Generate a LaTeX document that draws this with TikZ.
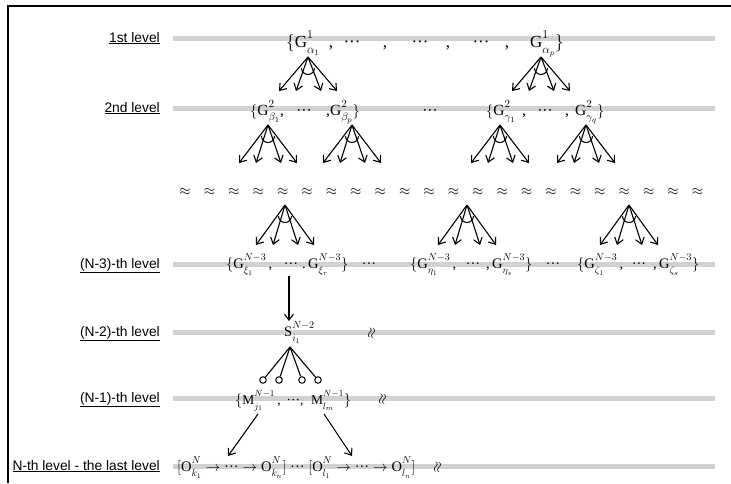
\documentclass[tikz,border=0pt]{standalone}
\usepackage{fontspec}
\setmainfont{Liberation Serif}
\newfontfamily\labelfont{Liberation Sans}
\usetikzlibrary{arrows.meta}
\newcommand{\dd}{\mbox{···}}
\newcommand{\ssc}[3]{\mathrm{#1}^{\raisebox{2pt}{$\scriptstyle #2$}}_{\raisebox{-2pt}{$\scriptstyle #3$}}}
\newcommand{\andfan}[4]{%
  \coordinate (#1) at (#2,#3);
  \foreach \d [count=\i] in {-29,-12,13,29} {
    \coordinate (#1t\i) at (#2+\d,#4);
    \draw[arr] (#1) -- (#1t\i);
  }
  \draw[line width=1pt] ([shift={(-6.5,-11)}]#1) arc[start angle=180,end angle=360,radius=6.5];
}
\begin{document}
\begin{tikzpicture}[x=1pt,y=1pt,
  arr/.style={-{Straight Barb[length=6pt,width=9pt]}, line width=1.1pt},
  lvl/.style={font=\labelfont\fontsize{13.8}{16}\selectfont, anchor=base east, inner sep=0},
  bar/.style={line width=5pt, draw=black!18},
  ta/.style={font=\fontsize{17}{20}\selectfont, inner sep=0},
  tb/.style={font=\fontsize{15.5}{18}\selectfont, inner sep=0},
  tc/.style={font=\fontsize{14.5}{17}\selectfont, inner sep=0},
  td/.style={font=\fontsize{13.5}{16}\selectfont, inner sep=0},
  W/.style={anchor=base west},
  C/.style={anchor=base},
  apx/.style={font=\fontsize{14}{17}\selectfont, inner sep=0},
  wav/.style={font=\fontsize{14}{17}\selectfont, inner sep=0, rotate=80},
  ring/.style={circle, draw, minimum size=6.5pt, inner sep=0, line width=1pt}]
\useasboundingbox (0,0) rectangle (731,-483);
% frame
\coordinate (f0) at (8,-483);
\coordinate (f1) at (8,-6);
\coordinate (f2) at (731,-6);
\draw[line width=2pt] (f0) -- (f1) -- (f2);
% bars
\foreach \n/\y in {b1/38,b2/108,b3/264,b4/332,b5/398,b6/466} {
  \coordinate (\n l) at (173,-\y);
  \coordinate (\n r) at (715,-\y);
  \draw[bar] (\n l) -- (\n r);
}
% labels
\node[lvl] (l1) at (160,-42) {\underline{1st level}};
\node[lvl] (l2) at (160,-112) {\underline{2nd level}};
\node[lvl] (l3) at (160,-268) {\underline{(N-3)-th level}};
\node[lvl] (l4) at (160,-336) {\underline{(N-2)-th level}};
\node[lvl] (l5) at (160,-402) {\underline{(N-1)-th level}};
\node[lvl] (l6) at (160,-470) {\underline{N-th level - the last level}};
% level 1
\node[ta,W] (g11) at (286,-47) {$\{\ssc{G}{1}{\alpha_1}$};
\node[ta,C] (c11) at (331,-47) {,};
\node[ta,C] (d11) at (352,-47) {···};
\node[ta,C] (c12) at (385,-47) {,};
\node[ta,C] (d12) at (420,-47) {···};
\node[ta,C] (c13) at (448,-47) {,};
\node[ta,C] (d13) at (481,-47) {···};
\node[ta,C] (c14) at (507,-47) {,};
\node[ta,W] (g1p) at (530,-47) {$\ssc{G}{1}{\alpha_p}\}$};
% level 2
\node[tb,W] (g21) at (250,-115) {$\{\ssc{G}{2}{\beta_1}$,};
\node[tb,C] (d21) at (304,-115) {···};
\node[tb,W] (g2p) at (326,-115) {,$\ssc{G}{2}{\beta_p}\}$};
\node[tb,C] (d22) at (430,-115) {···};
\node[tb,W] (g2g) at (486,-115) {$\{\ssc{G}{2}{\gamma_1}$};
\node[tb,C] (c21) at (524,-115) {,};
\node[tb,C] (d23) at (545,-115) {···};
\node[tb,C] (c22) at (567,-115) {,};
\node[tb,W] (g2q) at (575,-115) {$\ssc{G}{2}{\gamma_q}\}$};
% fans
\andfan{fa}{308}{-57}{-91}
\andfan{fb}{541}{-57}{-91}
\andfan{fc}{268}{-125}{-163}
\andfan{fd}{352}{-125}{-163}
\andfan{fe}{500}{-125}{-163}
\andfan{ff}{586}{-125}{-163}
% approx row
\foreach \i in {0,...,21} {
  \node[apx] (ap\i) at ({185+\i*24.4},-192) {$\approx$};
}
\andfan{fg}{285}{-205}{-245}
\andfan{fh}{467}{-205}{-245}
\andfan{fi}{629}{-205}{-245}
% level N-3
\node[tc,W] (g31) at (226,-268) {$\{\ssc{G}{N-3}{\xi_1}$\,,};
\node[tc,C] (d31) at (291,-268) {···};
\node[tc,W] (g3r) at (302,-268) {.\,$\ssc{G}{N-3}{\xi_r}\}$};
\node[tc,C] (d32) at (369,-268) {···};
\node[tc,W] (g3h) at (410,-268) {$\{\ssc{G}{N-3}{\eta_1}$\,,};
\node[tc,C] (d33) at (473,-268) {···};
\node[tc,W] (g3s) at (486,-268) {,\,$\ssc{G}{N-3}{\eta_s}\}$};
\node[tc,C] (d34) at (553,-268) {···};
\node[tc,W] (g3z) at (577,-268) {$\{\ssc{G}{N-3}{\zeta_1}$\,,};
\node[tc,C] (d35) at (639,-268) {···};
\node[tc,W] (g3zs) at (653,-268) {,\,$\ssc{G}{N-3}{\zeta_s}\}$};
% vertical arrow
\coordinate (v0) at (289,-276);
\coordinate (v1) at (289,-321);
\draw[arr] (v0) -- (v1);
% level N-2
\node[tc,W] (s) at (284,-336) {$\ssc{S}{N-2}{i_1}$};
\node[wav] (w4) at (372,-333) {$\approx$};
\coordinate (sa) at (290,-347);
\foreach \x [count=\i] in {263,279,302,318} {
  \node[ring] (r\i) at (\x,-380) {};
  \draw[line width=1.1pt] (sa) -- (r\i);
}
% level N-1
\node[td,W] (m1) at (235,-404) {$\{\ssc{M}{N-1}{j_1}$\,,};
\node[td,C] (d51) at (295,-404) {···,};
\node[td,W] (m2) at (311,-404) {$\ssc{M}{N-1}{l_m}\}$};
\node[wav] (w5) at (383,-399) {$\approx$};
\coordinate (ma) at (258,-414);
\coordinate (oa) at (228,-456);
\coordinate (mb) at (324,-414);
\coordinate (ob) at (352,-456);
\draw[arr] (ma) -- (oa);
\draw[arr] (mb) -- (ob);
% level N
\node[tc,W] (o) at (177,-471) {$[\ssc{O}{N}{k_1}\rightarrow\dd\rightarrow\ssc{O}{N}{k_n}]\ \dd\ [\ssc{O}{N}{l_1}\rightarrow\dd\rightarrow\ssc{O}{N}{l_n}]$};
\node[wav, anchor=center] (w6) at ([xshift=22pt,yshift=4pt]o.base east) {$\approx$};
\end{tikzpicture}
\end{document}
